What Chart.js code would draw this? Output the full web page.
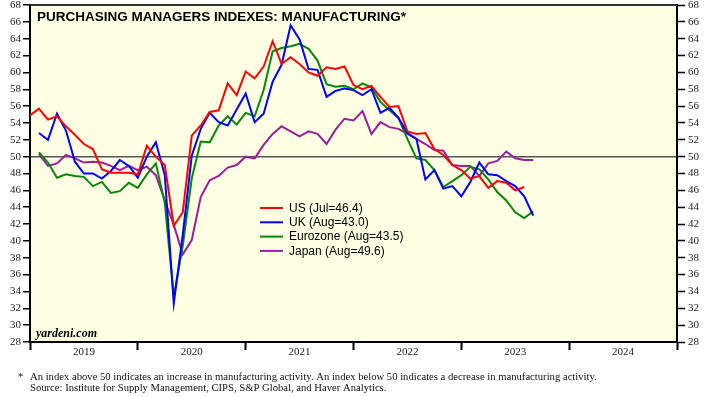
<!DOCTYPE html>
<html>
<head>
<meta charset="utf-8">
<script src="https://cdn.jsdelivr.net/npm/chart.js@4/dist/chart.umd.min.js"></script>
<style>
  html, body { margin: 0; padding: 0; background: #fff; }
  canvas { display: block; }
</style>
</head>
<body>
<canvas id="pmi" width="725" height="396"></canvas>
<script>
// x is months since Dec 2018 (month-end), years are labelled mid-segment
const yearLabels = ['2019', '2020', '2021', '2022', '2023', '2024'];

// US ISM, Dec 2018 .. Jul 2023
const usStart = 0;
const usPmi = [
  54.9,
  55.7, 54.4, 54.8, 53.6, 52.6, 51.5, 50.9, 48.5, 48.1, 48.1, 48.1, 47.9,
  51.3, 50.0, 49.0, 41.8, 43.4, 52.5, 53.7, 55.3, 55.5, 58.7, 57.3, 60.1,
  59.3, 60.7, 63.7, 61.0, 61.8, 61.0, 60.0, 59.6, 60.6, 60.4, 60.7, 58.5,
  58.0, 58.4, 57.1, 55.9, 56.0, 53.0, 52.7, 52.8, 50.9, 50.2, 49.0, 48.4,
  47.4, 47.7, 46.3, 47.1, 46.9, 46.0, 46.4
];

// UK, Jan 2019 .. Aug 2023
const ukStart = 1;
const ukPmi = [
  52.8, 52.0, 55.1, 53.1, 49.4, 48.0, 48.0, 47.4, 48.3, 49.6, 48.9, 47.5,
  50.0, 51.7, 47.8, 32.6, 40.7, 50.1, 53.3, 55.2, 54.1, 53.7, 55.6, 57.5,
  54.1, 55.1, 58.9, 60.9, 65.6, 63.9, 60.4, 60.3, 57.1, 57.8, 58.1, 57.9,
  57.3, 58.0, 55.2, 55.8, 54.6, 52.8, 52.1, 47.3, 48.4, 46.2, 46.5, 45.3,
  47.0, 49.3, 47.9, 47.8, 47.1, 46.5, 45.3, 43.0
];

// Eurozone, Jan 2019 .. Aug 2023
const ezStart = 1;
const ezPmi = [
  50.5, 49.3, 47.5, 47.9, 47.7, 47.6, 46.5, 47.0, 45.7, 45.9, 46.9, 46.3,
  47.9, 49.2, 44.5, 33.4, 39.4, 47.4, 51.8, 51.7, 53.7, 54.8, 53.8, 55.2,
  54.8, 57.9, 62.5, 62.9, 63.1, 63.4, 62.8, 61.4, 58.6, 58.3, 58.4, 58.0,
  58.7, 58.2, 56.5, 55.5, 54.6, 52.1, 49.8, 49.6, 48.4, 46.4, 47.1, 47.8,
  48.8, 48.5, 47.3, 45.8, 44.8, 43.4, 42.7, 43.5
];

// Japan, Jan 2019 .. Aug 2023
const jpStart = 1;
const jpPmi = [
  50.3, 48.9, 49.2, 50.2, 49.8, 49.3, 49.4, 49.3, 48.9, 48.4, 48.9, 48.4,
  48.8, 47.8, 44.8, 41.9, 38.4, 40.1, 45.2, 47.2, 47.7, 48.7, 49.0, 50.0,
  49.8, 51.4, 52.7, 53.6, 53.0, 52.4, 53.0, 52.7, 51.5, 53.2, 54.5, 54.3,
  55.4, 52.7, 54.1, 53.5, 53.3, 52.7, 52.1, 51.5, 50.8, 50.7, 49.0, 48.9,
  48.9, 47.7, 49.2, 49.5, 50.6, 49.8, 49.6, 49.6
];

const seriesNames = ['US (Jul=46.4)', 'UK (Aug=43.0)', 'Eurozone (Aug=43.5)', 'Japan (Aug=49.6)'];
const seriesColors = ['#ff0000', '#0000ff', '#078707', '#9b1f9b'];

const serif = "'Liberation Serif', 'Times New Roman', serif";
const sans = "'Liberation Sans', Arial, sans-serif";

function toPoints(start, arr) {
  return arr.map((v, i) => ({ x: start + i, y: v }));
}

const decorations = {
  id: 'decorations',
  beforeDraw(chart) {
    const { ctx, chartArea: a } = chart;
    ctx.save();
    ctx.fillStyle = '#ffffe3';
    ctx.fillRect(a.left, a.top, a.right - a.left, a.bottom - a.top);
    ctx.restore();
  },
  afterDraw(chart) {
    const { ctx, chartArea: a } = chart;
    ctx.save();
    // top frame
    ctx.strokeStyle = '#333';
    ctx.lineWidth = 2;
    ctx.beginPath();
    ctx.moveTo(a.left, a.top);
    ctx.lineTo(a.right, a.top);
    ctx.stroke();

    // title
    ctx.fillStyle = '#000';
    ctx.textBaseline = 'alphabetic';
    ctx.font = 'bold 13.5px ' + sans;
    ctx.fillText('PURCHASING MANAGERS INDEXES: MANUFACTURING*', 37, 20.5);

    // yardeni
    ctx.font = 'italic bold 12px ' + serif;
    ctx.fillText('yardeni.com', 36, 337);

    // legend
    ctx.font = '12px ' + sans;
    ctx.textBaseline = 'middle';
    chart.data.datasets.forEach((ds, i) => {
      const y = 208 + i * 14.3;
      ctx.strokeStyle = ds.borderColor;
      ctx.lineWidth = 2;
      ctx.beginPath();
      ctx.moveTo(260, y);
      ctx.lineTo(283, y);
      ctx.stroke();
      ctx.fillStyle = '#000';
      ctx.fillText(ds.label, 289, y + 0.5);
    });

    // footnote
    ctx.fillStyle = '#111';
    ctx.font = '10.65px ' + serif;
    ctx.textBaseline = 'alphabetic';
    ctx.fillText('*', 18, 380);
    ctx.fillText('An index above 50 indicates an increase in manufacturing activity. An index below 50 indicates a decrease in manufacturing activity.', 30, 380);
    ctx.fillText('Source: Institute for Supply Management, CIPS, S&P Global, and Haver Analytics.', 30, 391);
    ctx.restore();
  }
};

const yAxisBase = {
  min: 28,
  max: 68,
  border: { color: '#000', width: 2 },
  ticks: {
    stepSize: 2,
    color: '#222',
    font: { family: serif, size: 11 },
    padding: 2
  }
};

function noVerticalPadding(scale) {
  scale.paddingTop = 0;
  scale.paddingBottom = 0;
}

new Chart(document.getElementById('pmi'), {
  type: 'line',
  data: {
    datasets: [
      { label: seriesNames[0], data: toPoints(usStart, usPmi), borderColor: seriesColors[0] },
      { label: seriesNames[1], data: toPoints(ukStart, ukPmi), borderColor: seriesColors[1] },
      { label: seriesNames[2], data: toPoints(ezStart, ezPmi), borderColor: seriesColors[2] },
      { label: seriesNames[3], data: toPoints(jpStart, jpPmi), borderColor: seriesColors[3] }
    ]
  },
  options: {
    responsive: false,
    animation: false,
    devicePixelRatio: 1,
    layout: { padding: { top: 5, left: 0, right: 0, bottom: 0 } },
    elements: {
      line: { borderWidth: 2, tension: 0 },
      point: { radius: 0 }
    },
    plugins: {
      legend: { display: false },
      tooltip: { enabled: false }
    },
    scales: {
      x: {
        type: 'linear',
        min: 0,
        max: 72,
        afterBuildTicks(scale) {
          const t = [];
          for (let v = 0; v <= 72; v += 6) t.push({ value: v });
          scale.ticks = t;
        },
        afterFit(scale) {
          scale.height = 54;
          scale.paddingLeft = 0;
          scale.paddingRight = 0;
        },
        border: { color: '#000', width: 2 },
        grid: {
          drawOnChartArea: false,
          tickLength: 8,
          tickWidth: 2,
          tickColor: (c) => (c.tick && c.tick.value % 12 === 0 ? '#000' : 'rgba(0,0,0,0)')
        },
        ticks: {
          autoSkip: false,
          maxRotation: 0,
          padding: -4,
          color: '#222',
          font: { family: serif, size: 11 },
          callback: (v) => (v % 12 === 6 ? yearLabels[(v - 6) / 12] : '')
        }
      },
      y: {
        ...yAxisBase,
        position: 'left',
        afterFit(scale) {
          scale.width = 30;
          noVerticalPadding(scale);
        },
        grid: {
          tickLength: 7,
          tickWidth: 1.5,
          tickColor: '#000',
          lineWidth: 1.5,
          color: (c) => (c.tick && c.tick.value === 50 ? '#555' : 'rgba(0,0,0,0)')
        }
      },
      y2: {
        ...yAxisBase,
        position: 'right',
        afterFit(scale) {
          scale.width = 48;
          noVerticalPadding(scale);
        },
        grid: {
          drawOnChartArea: false,
          tickLength: 8,
          tickWidth: 1.5,
          tickColor: '#000'
        },
        ticks: { ...yAxisBase.ticks, padding: 3 }
      }
    }
  },
  plugins: [decorations]
});
</script>
</body>
</html>
